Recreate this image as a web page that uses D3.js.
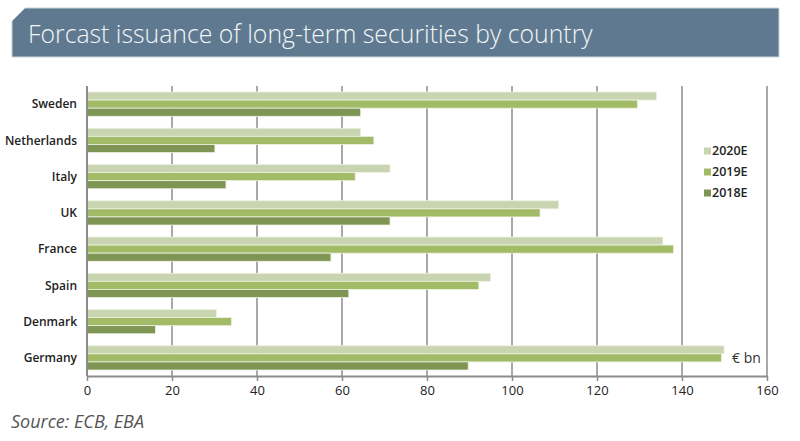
<!DOCTYPE html>
<html lang="en">
<head>
  <meta charset="UTF-8">
  <title>Forcast issuance of long-term securities by country</title>
  <script src="https://d3js.org/d3.v7.min.js"></script>
  <style>
    body { margin: 0; background: white; }
    .title { font-family: "Open Sans", Lato, sans-serif; font-weight: 300; fill: #f4f6f8; }
    .cat { font-family: "Open Sans", sans-serif; font-weight: 600; font-size: 12px; fill: #222; }
    .tick text { font-family: "Open Sans", sans-serif; font-size: 13px; fill: #222; }
    .legend text { font-family: "Open Sans", sans-serif; font-weight: 600; font-size: 12.5px; fill: #222; }
    .source { font-family: "Open Sans", sans-serif; font-style: italic; font-size: 18px; fill: #555; }
  </style>
</head>
<body>
<svg id="chart"></svg>
<script>
// data
const countries = ["Sweden", "Netherlands", "Italy", "UK", "France", "Spain", "Denmark", "Germany"];
const seriesNames = ["2020E", "2019E", "2018E"];
const v2020 = [134, 64.4, 71.3, 111, 135.5, 95, 30.5, 149.9];
const v2019 = [129.5, 67.5, 63.1, 106.6, 138, 92.2, 34, 149.3];
const v2018 = [64.4, 30.1, 32.7, 71.3, 57.4, 61.6, 16.1, 89.7];
const colours = ["#c9d5b0", "#a2bb67", "#7f9553"];
const xTicks = [0, 20, 40, 60, 80, 100, 120, 140, 160];

const width = 800, height = 441;
const svg = d3.select("#chart").attr("width", width).attr("height", height);

// title banner with cut corner
const bx0 = 12, bx1 = 779, by0 = 8, by1 = 57, cut = 13;
svg.append("path")
  .attr("d", `M${bx0+cut},${by0} L${bx1},${by0} L${bx1},${by1} L${bx0},${by1} L${bx0},${by0+cut} Z`)
  .attr("fill", "#5f7a90")
  .attr("stroke", "#c9d3dc")
  .attr("stroke-width", 1);
svg.append("text")
  .attr("class", "title")
  .attr("x", 28).attr("y", 43)
  .attr("font-size", 24.8)
  .text("Forcast issuance of long-term securities by country");

// scales
const x = d3.scaleLinear().domain([0, 160]).range([87, 767]);
const y = d3.scaleBand().domain(countries).range([86, 376]).paddingInner(0.33).paddingOuter(0.165);
const ySub = d3.scaleBand().domain(seriesNames).range([0, y.bandwidth()]);

// gridlines
svg.append("g").selectAll("line")
  .data(xTicks)
  .join("line")
  .attr("x1", d => x(d)).attr("x2", d => x(d))
  .attr("y1", 86).attr("y2", 376)
  .attr("stroke", "#8c8c8c")
  .attr("stroke-width", 1.5);

// bars
const rows = countries.map((c, i) => ({ country: c, vals: [v2020[i], v2019[i], v2018[i]] }));
const groups = svg.append("g").selectAll("g")
  .data(rows)
  .join("g")
  .attr("transform", d => `translate(0,${y(d.country)})`);
groups.selectAll("rect")
  .data(d => d.vals.map((v, k) => ({ key: seriesNames[k], value: v, k: k })))
  .join("rect")
  .attr("x", x(0))
  .attr("y", d => ySub(d.key))
  .attr("width", d => x(d.value) - x(0))
  .attr("height", ySub.bandwidth())
  .attr("fill", d => colours[d.k])
  .attr("stroke", "#eef2e4")
  .attr("stroke-width", 0.8);

// category labels
svg.append("g").selectAll("text")
  .data(countries)
  .join("text")
  .attr("class", "cat")
  .attr("x", 77)
  .attr("y", d => y(d) + y.bandwidth() / 2)
  .attr("dy", "0.35em")
  .attr("text-anchor", "end")
  .text(d => d);

// x axis
const xAxis = svg.append("g")
  .attr("transform", "translate(0,376)")
  .call(d3.axisBottom(x).tickValues(xTicks).tickSize(5).tickPadding(5).tickSizeOuter(0));
xAxis.select(".domain").attr("stroke", "#8c8c8c").attr("stroke-width", 2);
xAxis.selectAll(".tick line").attr("stroke", "#8c8c8c").attr("stroke-width", 1.5);
xAxis.selectAll(".tick text").attr("font-family", null).attr("font-size", null);

// left axis line
svg.append("line")
  .attr("x1", x(0)).attr("x2", x(0))
  .attr("y1", 86).attr("y2", 376)
  .attr("stroke", "#8c8c8c").attr("stroke-width", 2);

// legend
const legend = svg.append("g").attr("class", "legend");
const lg = legend.selectAll("g")
  .data(seriesNames)
  .join("g")
  .attr("transform", (d, i) => `translate(704,${151 + i * 21})`);
lg.append("rect")
  .attr("x", 0).attr("y", -3.5)
  .attr("width", 7).attr("height", 7)
  .attr("fill", (d, i) => colours[i]);
lg.append("text")
  .attr("x", 8).attr("dy", "0.35em")
  .text(d => d);

// unit label
svg.append("text")
  .attr("x", 732).attr("y", 358).attr("dy", "0.35em")
  .attr("font-family", "Open Sans, sans-serif").attr("font-size", 14).attr("fill", "#333")
  .text("€ bn");

// source
svg.append("text")
  .attr("class", "source")
  .attr("x", 11).attr("y", 428)
  .text("Source: ECB, EBA");
</script>
</body>
</html>
